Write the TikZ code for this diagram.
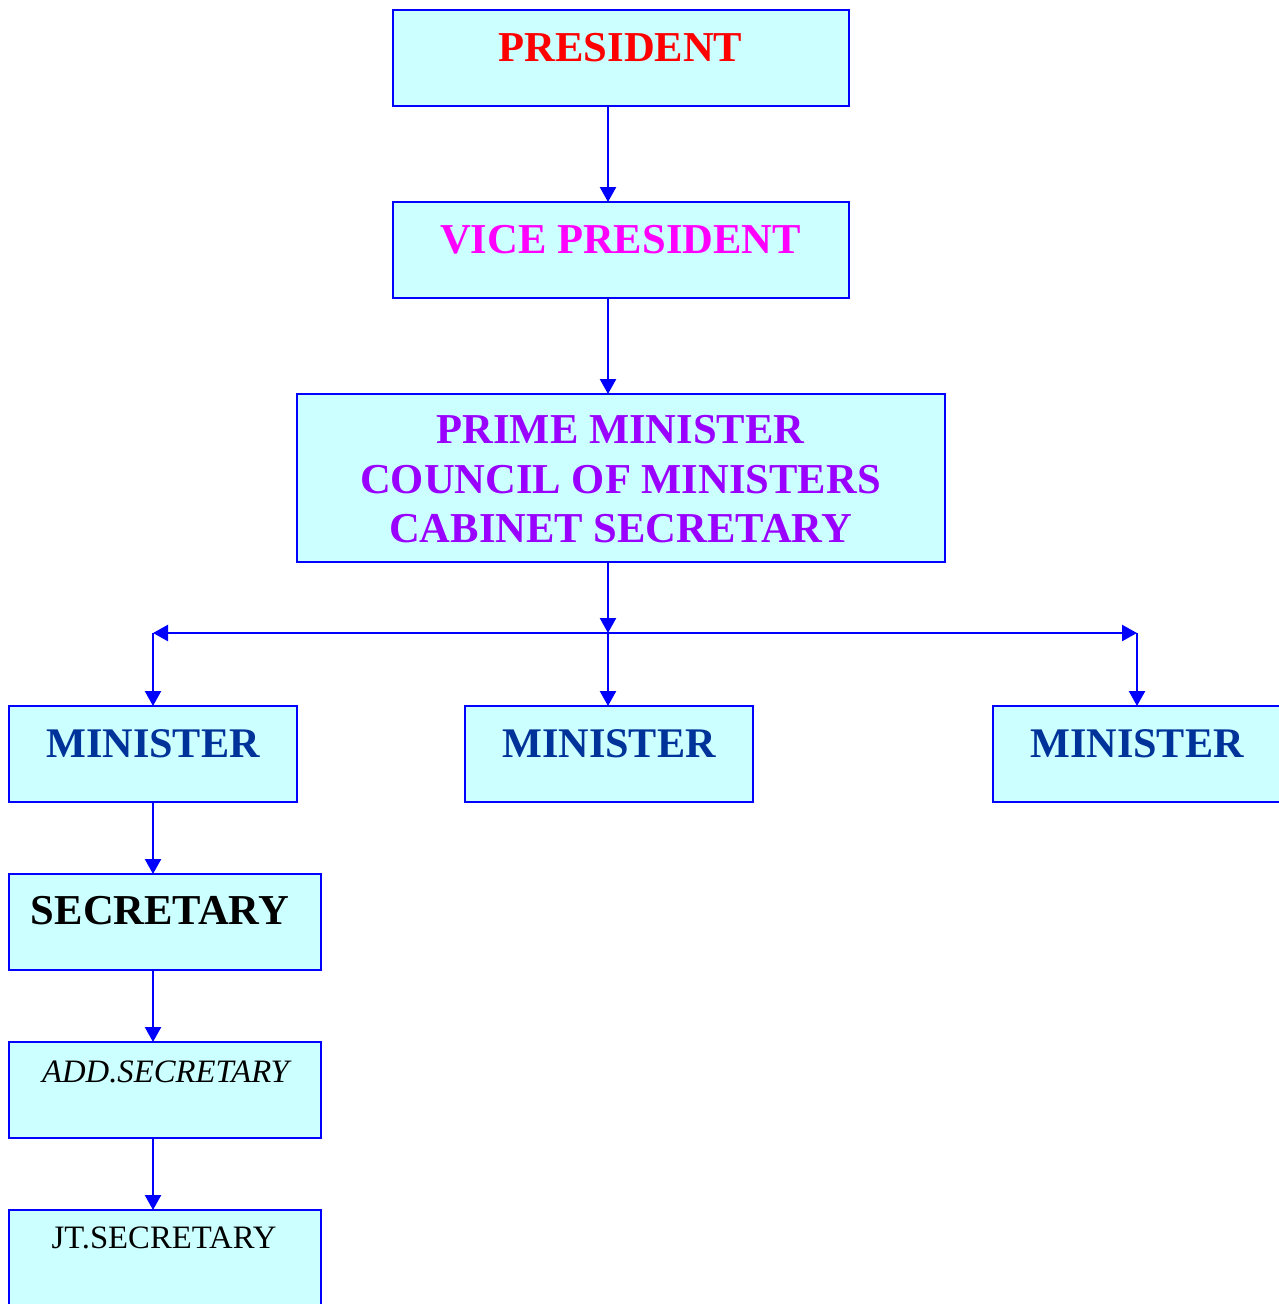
\documentclass[tikz,border=0pt]{standalone}
\usepackage{fontspec}
\setmainfont{Liberation Serif}
\usetikzlibrary{arrows.meta}
\definecolor{boxfill}{HTML}{CCFFFF}
\definecolor{boxline}{HTML}{0000FF}
\definecolor{prescol}{HTML}{FF0000}
\definecolor{vpcol}{HTML}{FF00FF}
\definecolor{pmcol}{HTML}{9900FF}
\definecolor{mincol}{HTML}{003399}
\tikzset{
  orgbox/.style={draw=boxline, fill=boxfill, line width=2.6pt, inner sep=0pt, outer sep=0pt, rectangle},
  lbl/.style={anchor=base, inner sep=0pt, outer sep=0pt},
  big/.style={font=\fontsize{42.6}{42.6}\selectfont\bfseries},
  mid/.style={font=\fontsize{42.2}{42.2}\selectfont\bfseries},
  small/.style={font=\fontsize{32.7}{32.7}\selectfont},
  arr/.style={draw=boxline, line width=2.4pt, -{Triangle[length=15pt,width=16pt]}},
}
\begin{document}
\begin{tikzpicture}[x=1pt, y=-1pt]
\useasboundingbox (0,0) rectangle (1278,1304);
% boxes
\node[orgbox, minimum width=456pt, minimum height=96pt] (p)  at (621,58) {};
\node[orgbox, minimum width=456pt, minimum height=96pt] (vp) at (621,250) {};
\node[orgbox, minimum width=648pt, minimum height=168pt] (pm) at (621,478) {};
\node[orgbox, minimum width=288pt, minimum height=96pt] (m1) at (153,754) {};
\node[orgbox, minimum width=288pt, minimum height=96pt] (m2) at (609,754) {};
\node[orgbox, minimum width=288pt, minimum height=96pt] (m3) at (1137,754) {};
\node[orgbox, minimum width=312pt, minimum height=96pt] (s)  at (165,922) {};
\node[orgbox, minimum width=312pt, minimum height=96pt] (as) at (165,1090) {};
\node[orgbox, minimum width=312pt, minimum height=96pt] (js) at (165,1258) {};
% labels
\node[lbl, big, text=prescol] (pt) at (620.5,61) {PRESIDENT};
\node[lbl, big, text=vpcol] (vpt) at (620.5,253) {VICE PRESIDENT};
\node[lbl, big, text=pmcol] (pm1) at (620.5,443) {PRIME MINISTER};
\node[lbl, big, text=pmcol] (pm2) at (620.5,493) {COUNCIL OF MINISTERS};
\node[lbl, big, text=pmcol] (pm3) at (620.5,542) {CABINET SECRETARY};
\node[lbl, mid, text=mincol] (m1t) at (153,757) {MINISTER};
\node[lbl, mid, text=mincol] (m2t) at (609,757) {MINISTER};
\node[lbl, mid, text=mincol] (m3t) at (1137,757) {MINISTER};
\node[lbl, big, text=black] (st) at (160,924) {SECRETARY};
\node[lbl, small, text=black, font=\fontsize{32.7}{32.7}\selectfont\itshape] (ast) at (165.5,1082) {ADD.SECRETARY};
\node[lbl, small, text=black] (jst) at (164,1248) {JT.SECRETARY};
% junction coordinates
\coordinate (j) at (608,633);
\coordinate (jl) at (153,633);
\coordinate (jr) at (1137,633);
% connectors
\draw[arr] (p.south -| j) -- (vp.north -| j);
\draw[arr] (vp.south -| j) -- (pm.north -| j);
\draw[arr] (pm.south -| j) -- (j);
\draw[arr] (j) -- (jl);
\draw[arr] (j) -- (jr);
\draw[arr] (j) -- (m2.north -| j);
\draw[arr] (jl) -- (m1.north -| jl);
\draw[arr] (jr) -- (m3.north -| jr);
\draw[arr] (m1.south) -- (s.north -| m1.south);
\draw[arr] (s.south -| m1.south) -- (as.north -| m1.south);
\draw[arr] (as.south -| m1.south) -- (js.north -| m1.south);
\end{tikzpicture}
\end{document}
